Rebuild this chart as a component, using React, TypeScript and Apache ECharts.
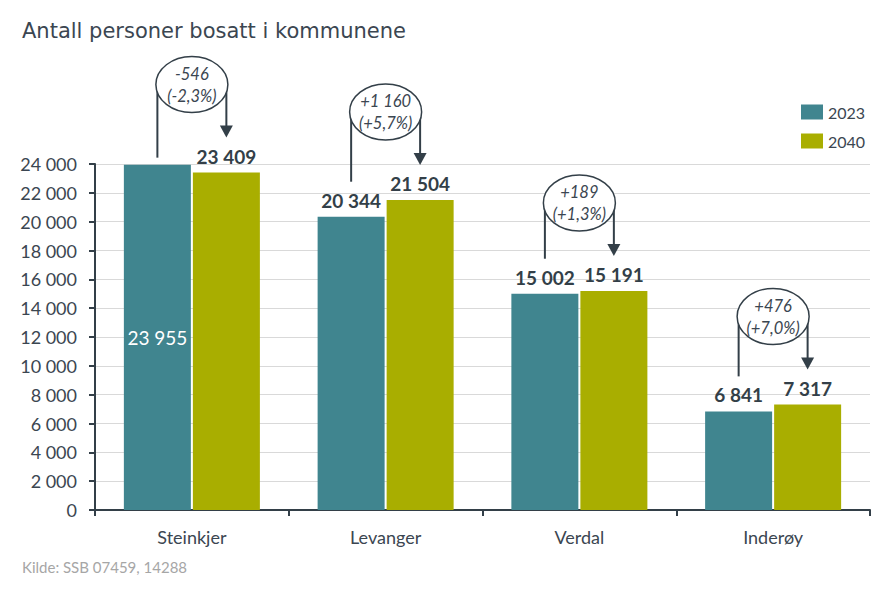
import React, { useEffect, useRef } from "react";
import * as echarts from "echarts";

const categories = ["Steinkjer", "Levanger", "Verdal", "Inderøy"];
const seriesNames = ["2023", "2040"];
const values2023 = [23955, 20344, 15002, 6841];
const values2040 = [23409, 21504, 15191, 7317];
const labelInside2023 = [true, false, false, false];
const titleText = "Antall personer bosatt i kommunene";
const sourceText = "Kilde: SSB 07459, 14288";

const TEAL = "#40858f";
const OLIVE = "#a9ae00";
const DARK = "#333f48";
const TEXT = "#3b4651";
const FONT = "Lato, 'Open Sans', sans-serif";

const fmt = (v: number) => {
  const s = Math.abs(Math.round(v)).toString().replace(/\B(?=(\d{3})+(?!\d))/g, " ");
  return (v < 0 ? "-" : "") + s;
};
const signed = (v: number) => (v >= 0 ? "+" : "-") + fmt(Math.abs(v));
const pct = (v: number) =>
  (v >= 0 ? "+" : "-") + Math.abs(v).toFixed(1).replace(".", ",") + "%";

export default function App() {
  const ref = useRef<HTMLDivElement>(null);
  useEffect(() => {
    if (!ref.current) return;
    const chart = echarts.init(ref.current, undefined, { renderer: "svg" });
    const annData = categories.map((_, i) => [i, values2023[i], values2040[i]]);
    chart.setOption({
      animation: false,
      title: {
        text: titleText,
        left: 9,
        top: 7,
        textStyle: { fontFamily: "'DejaVu Sans', sans-serif", fontSize: 21, fontWeight: "normal", color: TEXT },
      },
      legend: {
        data: seriesNames,
        orient: "vertical",
        left: 788,
        top: 91,
        itemWidth: 22,
        itemHeight: 15,
        itemGap: 13,
        icon: "rect",
        textStyle: { fontFamily: FONT, fontSize: 16, color: TEXT },
      },
      grid: { left: 87, right: 8, top: 156, bottom: 71, containLabel: false },
      xAxis: {
        type: "category",
        data: categories,
        axisLine: { lineStyle: { color: DARK, width: 2 } },
        axisTick: { show: true, length: 6, lineStyle: { color: DARK, width: 2 } },
        axisLabel: { fontFamily: FONT, fontSize: 18, color: TEXT, margin: 18 },
      },
      yAxis: {
        type: "value",
        min: 0,
        max: 24000,
        interval: 2000,
        axisLine: { show: true, lineStyle: { color: DARK, width: 2 } },
        axisTick: { show: true, length: 6, lineStyle: { color: DARK, width: 2 } },
        splitLine: { lineStyle: { color: "#d9d9d9", width: 1 } },
        axisLabel: { fontFamily: FONT, fontSize: 18, color: TEXT, margin: 18, formatter: (v: number) => fmt(v) },
      },
      graphic: [
        {
          type: "text",
          left: 14,
          top: 551,
          style: { text: sourceText, fill: "#a6a6a6", fontSize: 15, fontFamily: FONT },
        },
      ],
      series: [
        {
          name: seriesNames[0],
          type: "bar",
          barWidth: 67,
          barGap: "3%",
          itemStyle: { color: TEAL },
          label: {
            show: true,
            position: "top",
            distance: 7,
            fontFamily: FONT,
            fontSize: 19,
            fontWeight: "bold",
            color: DARK,
            formatter: (p: any) => fmt(p.value),
          },
          data: values2023.map((v, i) =>
            labelInside2023[i]
              ? { value: v, label: { position: "inside", color: "#ffffff", fontWeight: "normal" } }
              : v
          ),
        },
        {
          name: seriesNames[1],
          type: "bar",
          barWidth: 67,
          barGap: "3%",
          itemStyle: { color: OLIVE },
          label: {
            show: true,
            position: "top",
            distance: 7,
            fontFamily: FONT,
            fontSize: 19,
            fontWeight: "bold",
            color: DARK,
            formatter: (p: any) => fmt(p.value),
          },
          data: values2040,
        },
        {
          name: "annotations",
          type: "custom",
          z: 10,
          clip: false,
          silent: true,
          encode: { x: 0, y: [1, 2] },
          data: annData,
          renderItem: (params: any, api: any) => {
            const i = api.value(0);
            const v1 = api.value(1);
            const v2 = api.value(2);
            const c = api.coord([i, 0]);
            const band = api.size([1, 0])[0];
            const off = band * 0.178;
            const x1 = c[0] - off;
            const x2 = c[0] + off;
            const y1 = api.coord([i, v1])[1];
            const y2 = api.coord([i, v2])[1];
            const cx = (x1 + x2) / 2;
            const cy = y2 - 88;
            const leftBottom = labelInside2023[i] ? y1 - 7 : y1 - 35;
            const tip = y2 - 35;
            const diff = v2 - v1;
            const p = (diff / v1) * 100;
            const lineStyle = { stroke: DARK, lineWidth: 2 };
            return {
              type: "group",
              children: [
                { type: "line", shape: { x1, y1: leftBottom, x2: x1, y2: cy }, style: lineStyle },
                { type: "line", shape: { x1: x2, y1: cy, x2, y2: tip - 10 }, style: lineStyle },
                {
                  type: "polygon",
                  shape: { points: [[x2 - 6.5, tip - 12], [x2 + 6.5, tip - 12], [x2, tip]] },
                  style: { fill: DARK },
                },
                {
                  type: "ellipse",
                  shape: { cx, cy, rx: 36, ry: 28 },
                  style: { fill: "#ffffff", stroke: DARK, lineWidth: 1.5 },
                },
                {
                  type: "text",
                  style: {
                    text: signed(diff) + "\n(" + pct(p) + ")",
                    x: cx,
                    y: cy,
                    align: "center",
                    verticalAlign: "middle",
                    textAlign: "center",
                    textVerticalAlign: "middle",
                    fontFamily: FONT,
                    fontStyle: "italic",
                    fontSize: 16.5,
                    lineHeight: 22,
                    fill: TEXT,
                  },
                },
              ],
            };
          },
        },
      ],
    });
    return () => chart.dispose();
  }, []);
  return <div ref={ref} style={{ width: 870, height: 573 }} />;
}
